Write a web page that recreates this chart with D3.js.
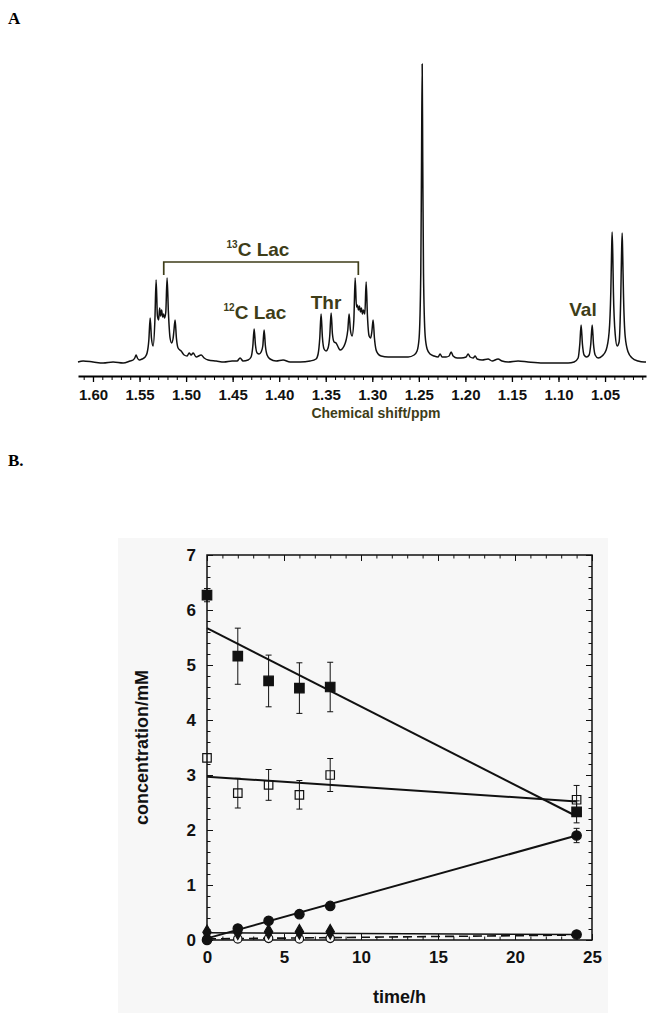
<!DOCTYPE html>
<html>
<head>
<meta charset="utf-8">
<script src="https://cdn.jsdelivr.net/npm/d3@7"></script>
<style>
  body { margin: 0; background: #fff; }
  svg { display: block; }
</style>
</head>
<body>
<script>
// ---------- panel A : 1H spectrum (chemical shift in ppm, intensity in arbitrary units) ----------
const specPpm = [1.6161, 1.6106, 1.5999, 1.5891, 1.5784, 1.5676, 1.5601, 1.5569, 1.5551, 1.5537, 1.5523, 1.5504,
  1.5472, 1.5440, 1.5419, 1.5400, 1.5386, 1.5372, 1.5354, 1.5335, 1.5322, 1.5308, 1.5295, 1.5284, 1.5274, 1.5263,
  1.5252, 1.5242, 1.5231, 1.5218, 1.5204, 1.5190, 1.5172, 1.5155, 1.5139, 1.5132, 1.5118, 1.5104, 1.5086, 1.5053,
  1.5021, 1.4989, 1.4967, 1.4946, 1.4924, 1.4892, 1.4838, 1.4806, 1.4763, 1.4677, 1.4592, 1.4506, 1.4452, 1.4420,
  1.4388, 1.4334, 1.4302, 1.4283, 1.4269, 1.4255, 1.4237, 1.4216, 1.4194, 1.4176, 1.4162, 1.4148, 1.4130, 1.4098,
  1.4033, 1.3958, 1.3883, 1.3775, 1.3668, 1.3604, 1.3582, 1.3564, 1.3550, 1.3536, 1.3518, 1.3496, 1.3475, 1.3457,
  1.3442, 1.3428, 1.3410, 1.3389, 1.3367, 1.3346, 1.3324, 1.3303, 1.3281, 1.3263, 1.3249, 1.3235, 1.3217, 1.3198,
  1.3184, 1.3170, 1.3160, 1.3149, 1.3138, 1.3127, 1.3117, 1.3106, 1.3095, 1.3080, 1.3066, 1.3052, 1.3034, 1.3018,
  1.3005, 1.2991, 1.2977, 1.2959, 1.2937, 1.2905, 1.2830, 1.2723, 1.2615, 1.2551, 1.2519, 1.2497, 1.2479, 1.2471,
  1.2464, 1.2458, 1.2450, 1.2432, 1.2411, 1.2379, 1.2336, 1.2293, 1.2272, 1.2250, 1.2207, 1.2175, 1.2153, 1.2132,
  1.2089, 1.2046, 1.1992, 1.1971, 1.1949, 1.1917, 1.1895, 1.1874, 1.1820, 1.1756, 1.1713, 1.1649, 1.1606, 1.1541,
  1.1434, 1.1327, 1.1166, 1.1004, 1.0897, 1.0832, 1.0789, 1.0771, 1.0757, 1.0743, 1.0725, 1.0698, 1.0671, 1.0653,
  1.0638, 1.0624, 1.0606, 1.0574, 1.0531, 1.0488, 1.0456, 1.0438, 1.0430, 1.0424, 1.0417, 1.0410, 1.0391, 1.0370,
  1.0349, 1.0331, 1.0323, 1.0316, 1.0310, 1.0302, 1.0284, 1.0252, 1.0209, 1.0145, 1.0080, 1.0060];
const specInt = [0, 1, 0, -1, 0, -1, 1, 2, 4, 7, 4, 2,
  3, 5, 9, 22, 44, 24, 16, 42, 82, 46, 42, 54, 46, 52,
  45, 48, 44, 50, 84, 50, 24, 19, 24, 30, 42, 24, 14, 11,
  7, 6, 9, 7, 9, 5, 7, 4, 2, 1, 0, 1, 1, 4,
  1, 2, 5, 16, 33, 17, 9, 8, 10, 16, 32, 16, 7, 3,
  1, 2, 0, 0, 1, 3, 8, 24, 48, 25, 13, 11, 14, 26,
  49, 28, 20, 19, 15, 12, 13, 16, 22, 32, 48, 32, 26, 42,
  84, 55, 57, 52, 56, 50, 54, 48, 52, 48, 80, 46, 26, 24,
  30, 42, 24, 12, 8, 6, 5, 5, 5, 7, 11, 24, 90, 200,
  298, 200, 90, 26, 13, 8, 6, 5, 8, 5, 5, 6, 10, 6,
  4, 4, 5, 8, 5, 4, 6, 3, 2, 3, 1, 3, 1, 0,
  1, 0, -1, -1, -1, 0, 4, 18, 37, 18, 7, 5, 7, 18,
  37, 18, 7, 4, 6, 12, 30, 70, 108, 130, 108, 70, 28, 16,
  20, 66, 106, 129, 106, 68, 26, 10, 4, 1, 0, 0];

const shiftMajor = [1.60, 1.55, 1.50, 1.45, 1.40, 1.35, 1.30, 1.25, 1.20, 1.15, 1.10, 1.05];
const shiftLabels = ["1.60", "1.55", "1.50", "1.45", "1.40", "1.35", "1.30", "1.25", "1.20", "1.15", "1.10", "1.05"];

// peak annotations
const annSup = ["13", "12", "", ""];
const annText = ["C Lac", "C Lac", "Thr", "Val"];
const annPpm = [1.4228, 1.4260, 1.3497, 1.0737];
const annInt = [106, 43, 53, 46];
const bracketPpm = [1.524, 1.315];
const bracketInt = [100, 87];

// ---------- panel B : concentrations vs time ----------
const tAll = [0, 2, 4, 6, 8, 24];
const sqFilled = [6.27, 5.16, 4.71, 4.58, 4.60, 2.33];
const sqFilledErr = [0.12, 0.51, 0.47, 0.46, 0.45, 0.20];
const sqOpen = [3.31, 2.67, 2.82, 2.64, 3.00, 2.55];
const sqOpenErr = [0, 0.27, 0.28, 0.26, 0.30, 0.26];
const circFilled = [0.00, 0.21, 0.35, 0.47, 0.62, 1.90];
const circFilledErr = [0, 0, 0, 0, 0, 0.13];
const tEarly = [0, 2, 4, 6, 8];
const diamonds = [0.14, 0.14, 0.15, 0.15, 0.15];
const circOpen = [0.02, 0.02, 0.03, 0.02, 0.03];
const tLate = [24];
const circLate = [0.10];

const fitT = [0, 24];
const fitSqFilled = [5.67, 2.25];
const fitSqOpen = [2.97, 2.52];
const fitCircFilled = [0.03, 1.90];
const fitDiamond = [0.13, 0.10];
const fitCircOpen = [0.02, 0.09];

const concTicks = [0, 1, 2, 3, 4, 5, 6, 7];
const timeTicks = [0, 5, 10, 15, 20, 25];

// ---------- drawing ----------
const W = 651, H = 1013;
const olive = "#3e3d18";
const sans = "'Liberation Sans', Arial, Helvetica, sans-serif";

const svg = d3.select("body").append("svg")
    .attr("width", W)
    .attr("height", H)
    .style("font-family", sans);

// panel letters
svg.append("text").attr("x", 8).attr("y", 24)
    .style("font-family", "'Liberation Serif', 'Times New Roman', serif")
    .style("font-weight", "bold").style("font-size", "17px").text("A");
svg.append("text").attr("x", 8).attr("y", 466)
    .style("font-family", "'Liberation Serif', 'Times New Roman', serif")
    .style("font-weight", "bold").style("font-size", "17px").text("B.");

// ----- A -----
const xA = d3.scaleLinear().domain([1.6161, 1.0060]).range([78, 646]);
const yA = d3.scaleLinear().domain([0, 298]).range([362, 64]);

const specLine = d3.line()
    .x((d, i) => xA(specPpm[i]))
    .y((d, i) => yA(specInt[i]))
    .curve(d3.curveMonotoneX);

svg.append("path")
    .attr("d", specLine(specPpm))
    .attr("fill", "none")
    .attr("stroke", "#111")
    .attr("stroke-width", 1.5)
    .attr("stroke-linejoin", "round");

const minorA = d3.range(101, 162).map(v => v / 100);
svg.append("g")
    .attr("transform", "translate(0,376)")
    .call(d3.axisBottom(xA).tickValues(minorA).tickSize(4).tickSizeOuter(0).tickFormat(""))
    .call(g => g.select(".domain").attr("stroke-width", 2));
svg.append("g")
    .attr("transform", "translate(0,376)")
    .call(d3.axisBottom(xA).tickValues(shiftMajor).tickSize(6).tickSizeOuter(0).tickPadding(7)
        .tickFormat((d, i) => shiftLabels[i]))
    .call(g => g.select(".domain").remove())
    .call(g => g.selectAll("line").attr("stroke-width", 1.3))
    .call(g => g.selectAll("text")
        .style("font-family", sans).style("font-size", "15px").style("font-weight", "bold").attr("fill", "#111"));

svg.append("text")
    .attr("x", 376).attr("y", 418)
    .attr("text-anchor", "middle")
    .attr("fill", olive)
    .style("font-size", "14px").style("font-weight", "bold")
    .text("Chemical shift/ppm");

// bracket for 13C lactate satellites
svg.append("path")
    .attr("d", d3.line()([
        [xA(bracketPpm[0]), yA(bracketInt[1])],
        [xA(bracketPpm[0]), yA(bracketInt[0])],
        [xA(bracketPpm[1]), yA(bracketInt[0])],
        [xA(bracketPpm[1]), yA(bracketInt[1])]
    ]))
    .attr("fill", "none").attr("stroke", olive).attr("stroke-width", 1.7);

annText.forEach((txt, i) => {
    const t = svg.append("text")
        .attr("x", xA(annPpm[i])).attr("y", yA(annInt[i]))
        .attr("text-anchor", "middle")
        .attr("fill", olive)
        .style("font-weight", "bold");
    if (annSup[i]) {
        t.append("tspan").attr("dy", -8).style("font-size", "10px").text(annSup[i]);
        t.append("tspan").attr("dy", 8).style("font-size", "19px").text(txt);
    } else {
        t.append("tspan").style("font-size", "19px").text(txt);
    }
});

// ----- B -----
svg.append("rect")
    .attr("x", 118).attr("y", 538).attr("width", 490).attr("height", H - 538)
    .attr("fill", "#f7f7f7");

const xB = d3.scaleLinear().domain([0, 25]).range([207, 592]);
const yB = d3.scaleLinear().domain([0, 7]).range([940, 555]);

const minorT = d3.range(0, 26);
const minorC = d3.range(0, 36).map(v => v / 5);

const tickStyle = g => g.call(g => g.select(".domain").remove())
    .call(g => g.selectAll("line").attr("stroke", "#111").attr("stroke-width", 1));

// minor ticks on all four sides (pointing inward)
svg.append("g").attr("transform", "translate(0,940)")
    .call(d3.axisBottom(xB).tickValues(minorT).tickSize(-3.5).tickFormat("")).call(tickStyle);
svg.append("g").attr("transform", "translate(0,555)")
    .call(d3.axisTop(xB).tickValues(minorT).tickSize(-3.5).tickFormat("")).call(tickStyle);
svg.append("g").attr("transform", "translate(207,0)")
    .call(d3.axisLeft(yB).tickValues(minorC).tickSize(-3.5).tickFormat("")).call(tickStyle);
svg.append("g").attr("transform", "translate(592,0)")
    .call(d3.axisRight(yB).tickValues(minorC).tickSize(-3.5).tickFormat("")).call(tickStyle);

// major ticks
const labStyle = g => g.selectAll("text")
    .style("font-family", sans).style("font-size", "17px").style("font-weight", "bold").attr("fill", "#111");
svg.append("g").attr("transform", "translate(0,940)")
    .call(d3.axisBottom(xB).tickValues(timeTicks).tickSize(-6).tickPadding(11).tickFormat(d3.format("d")))
    .call(tickStyle).call(labStyle);
svg.append("g").attr("transform", "translate(0,555)")
    .call(d3.axisTop(xB).tickValues(timeTicks).tickSize(-6).tickFormat("")).call(tickStyle);
svg.append("g").attr("transform", "translate(207,0)")
    .call(d3.axisLeft(yB).tickValues(concTicks).tickSize(-6).tickPadding(11).tickFormat(d3.format("d")))
    .call(tickStyle).call(labStyle);
svg.append("g").attr("transform", "translate(592,0)")
    .call(d3.axisRight(yB).tickValues(concTicks).tickSize(-6).tickFormat("")).call(tickStyle);

// frame
svg.append("rect")
    .attr("x", xB(0)).attr("y", yB(7))
    .attr("width", xB(25) - xB(0)).attr("height", yB(0) - yB(7))
    .attr("fill", "none").attr("stroke", "#111").attr("stroke-width", 1.5);

svg.append("text")
    .attr("x", (xB(0) + xB(25)) / 2).attr("y", 1003)
    .attr("text-anchor", "middle")
    .style("font-size", "18px").style("font-weight", "bold").attr("fill", "#111")
    .text("time/h");
svg.append("text")
    .attr("transform", `translate(142,${(yB(0) + yB(7)) / 2}) rotate(-90)`)
    .attr("text-anchor", "middle")
    .attr("dy", "0.35em")
    .style("font-size", "18px").style("font-weight", "bold").attr("fill", "#111")
    .text("concentration/mM");

// fit lines
const fitLine = d3.line().x((d, i) => xB(fitT[i])).y(d => yB(d));
[fitSqFilled, fitSqOpen, fitCircFilled].forEach(f => {
    svg.append("path").attr("d", fitLine(f))
        .attr("fill", "none").attr("stroke", "#111").attr("stroke-width", 2);
});
svg.append("path").attr("d", fitLine(fitDiamond))
    .attr("fill", "none").attr("stroke", "#111").attr("stroke-width", 1.5);
svg.append("path").attr("d", fitLine(fitCircOpen))
    .attr("fill", "none").attr("stroke", "#111").attr("stroke-width", 1.6)
    .attr("stroke-dasharray", "9,5");

// error bars
function errBars(vals, errs) {
    vals.forEach((v, i) => {
        if (!errs[i]) return;
        const x = xB(tAll[i]), y1 = yB(v - errs[i]), y2 = yB(v + errs[i]);
        svg.append("path")
            .attr("d", `M${x},${y1}V${y2}M${x - 3},${y1}H${x + 3}M${x - 3},${y2}H${x + 3}`)
            .attr("fill", "none").attr("stroke", "#111").attr("stroke-width", 1);
    });
}
errBars(sqFilled, sqFilledErr);
errBars(sqOpen, sqOpenErr);
errBars(circFilled, circFilledErr);

// markers
const sym = (type, size) => d3.symbol().type(type).size(size)();
function markers(ts, vals, type, size, fill, stroke) {
    svg.append("g").selectAll("path").data(vals).join("path")
        .attr("transform", (d, i) => `translate(${xB(ts[i])},${yB(d)})`)
        .attr("d", sym(type, size))
        .attr("fill", fill).attr("stroke", stroke).attr("stroke-width", 1.2);
}
markers(tEarly, circOpen, d3.symbolCircle, 55, "#f7f7f7", "#111");
markers(tEarly, diamonds, d3.symbolDiamond, 60, "#111", "#111");
markers(tAll, circFilled, d3.symbolCircle, 70, "#111", "#111");
markers(tLate, circLate, d3.symbolCircle, 70, "#111", "#111");
markers(tAll, sqOpen, d3.symbolSquare, 72, "none", "#111");
markers(tAll, sqFilled, d3.symbolSquare, 90, "#111", "#111");
</script>
</body>
</html>
